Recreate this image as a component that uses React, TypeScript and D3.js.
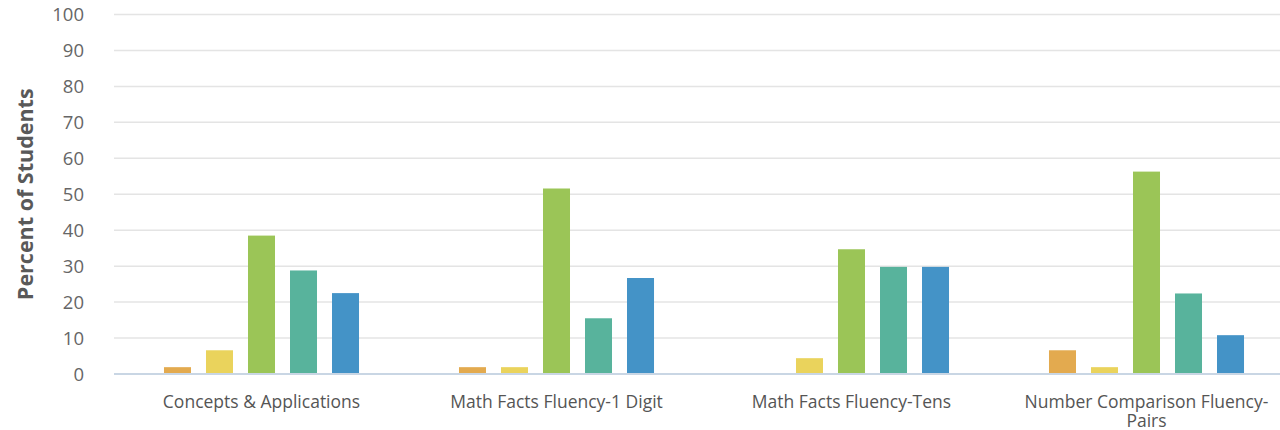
import React, { useEffect, useRef } from "react";
import * as d3 from "d3";

const categories = [
  "Concepts & Applications",
  "Math Facts Fluency-1 Digit",
  "Math Facts Fluency-Tens",
  "Number Comparison Fluency-Pairs",
];
const seriesNames = ["Level 1", "Level 2", "Level 3", "Level 4", "Level 5"];
const seriesColors = ["#E3AA4F", "#EAD35C", "#9BC557", "#58B39C", "#4493C7"];
const level1 = [1.9, 1.9, 0, 6.6];
const level2 = [6.6, 1.9, 4.4, 1.9];
const level3 = [38.5, 51.6, 34.7, 56.3];
const level4 = [28.8, 15.5, 29.8, 22.4];
const level5 = [22.5, 26.7, 29.8, 10.8];
const yTicks = [0, 10, 20, 30, 40, 50, 60, 70, 80, 90, 100];

const W = 1280;
const H = 430;
const FONT = "'Open Sans', sans-serif";

export default function App() {
  const ref = useRef<SVGSVGElement>(null);

  useEffect(() => {
    const svg = d3.select(ref.current);
    svg.selectAll("*").remove();

    const values = [level1, level2, level3, level4, level5];
    const y = d3.scaleLinear().domain([0, 100]).range([374, 14.5]);
    const x0 = d3.scaleBand<string>().domain(categories).range([114, 1294]).padding(0);
    const x1 = d3
      .scaleBand<string>()
      .domain(seriesNames)
      .range([0, x0.bandwidth()])
      .paddingInner(0.357)
      .paddingOuter(1.19);

    // grid lines
    svg
      .append("g")
      .selectAll("line")
      .data(yTicks.filter((t) => t > 0))
      .join("line")
      .attr("x1", 114)
      .attr("x2", W)
      .attr("y1", (d) => y(d))
      .attr("y2", (d) => y(d))
      .attr("stroke", "#E4E4E4")
      .attr("stroke-width", 1.5);

    // y tick labels
    svg
      .append("g")
      .selectAll("text")
      .data(yTicks)
      .join("text")
      .attr("x", 84)
      .attr("y", (d) => y(d))
      .attr("dy", "0.36em")
      .attr("text-anchor", "end")
      .attr("font-family", FONT)
      .attr("font-size", 18.5)
      .attr("fill", "#666")
      .text((d) => String(d));

    // y title
    svg
      .append("text")
      .attr("transform", `translate(33,${y(50)}) rotate(-90)`)
      .attr("text-anchor", "middle")
      .attr("font-family", FONT)
      .attr("font-weight", 700)
      .attr("font-size", 21.5)
      .attr("fill", "#595959")
      .text("Percent of Students");

    // bars
    const groups = svg
      .append("g")
      .selectAll("g")
      .data(categories)
      .join("g")
      .attr("transform", (d) => `translate(${x0(d)},0)`);

    groups
      .selectAll("rect")
      .data((_, ci) => seriesNames.map((s, si) => ({ s, si, v: values[si][ci] })))
      .join("rect")
      .filter((d) => d.v > 0)
      .attr("x", (d) => x1(d.s)!)
      .attr("width", x1.bandwidth())
      .attr("y", (d) => y(d.v))
      .attr("height", (d) => y(0) - y(d.v))
      .attr("fill", (d) => seriesColors[d.si]);

    // baseline
    svg
      .append("line")
      .attr("x1", 114)
      .attr("x2", W)
      .attr("y1", y(0))
      .attr("y2", y(0))
      .attr("stroke", "#C9D6E4")
      .attr("stroke-width", 2);

    // category labels, wrapped to the band width
    const labels = svg
      .append("g")
      .selectAll("text")
      .data(categories)
      .join("text")
      .attr("x", (d) => x0(d)! + x0.bandwidth() / 2)
      .attr("y", 408)
      .attr("text-anchor", "middle")
      .attr("font-family", FONT)
      .attr("font-size", 17.5)
      .attr("fill", "#555");

    labels.each(function (d) {
      const text = d3.select(this);
      const cx = x0(d)! + x0.bandwidth() / 2;
      const tokens = d.split(/(?<=[ -])/);
      let line = "";
      let tspan = text.append("tspan").attr("x", cx).attr("dy", 0);
      for (const tok of tokens) {
        const next = line + tok;
        tspan.text(next.trimEnd());
        if ((tspan.node() as SVGTSpanElement).getComputedTextLength() > 260 && line) {
          tspan.text(line.trimEnd());
          line = tok;
          tspan = text.append("tspan").attr("x", cx).attr("dy", "1.1em").text(tok);
        } else {
          line = next;
        }
      }
    });
  }, []);

  return (
    <svg
      ref={ref}
      width={W}
      height={H}
      style={{ position: "absolute", left: 0, top: 0, background: "#fff" }}
    />
  );
}
